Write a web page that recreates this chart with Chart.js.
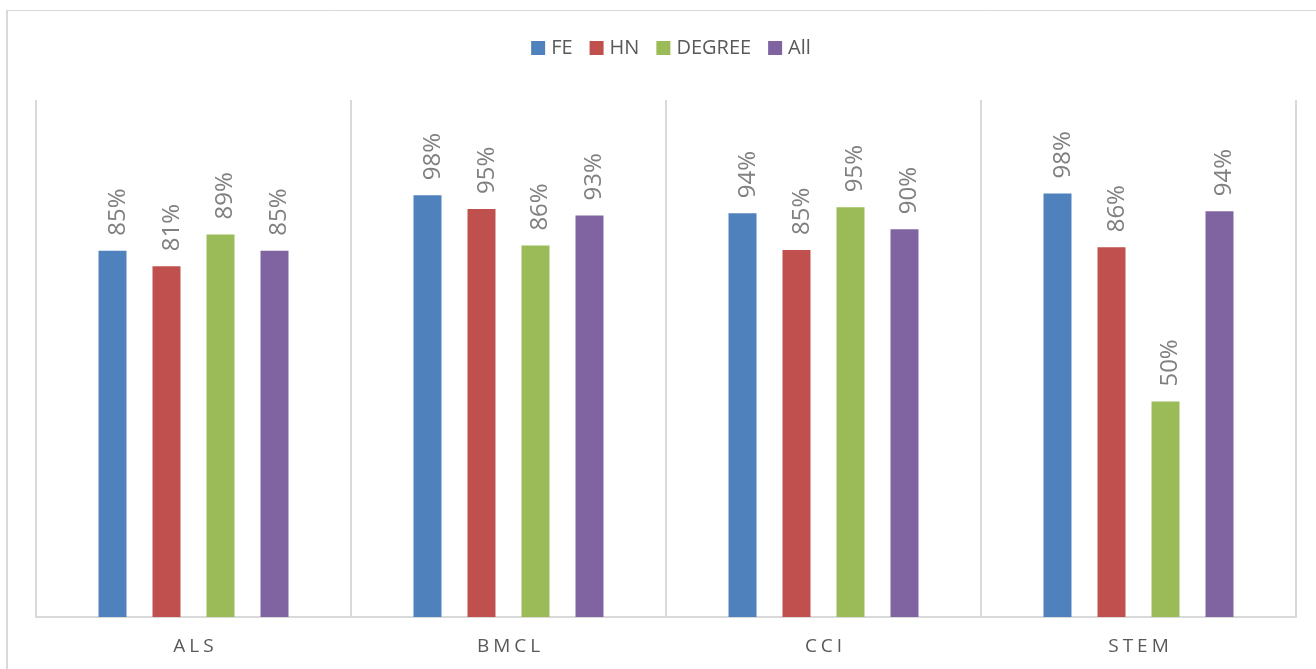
<!DOCTYPE html>
<html>
<head>
<meta charset="utf-8">
<script src="https://cdn.jsdelivr.net/npm/chart.js@4"></script>
<style>
  html, body { margin: 0; padding: 0; background: #ffffff; }
  #wrap { position: relative; width: 1316px; height: 669px; }
</style>
</head>
<body>
<div id="wrap"><canvas id="c" width="1316" height="669"></canvas></div>
<script>
const categories = ["ALS", "BMCL", "CCI", "STEM"];
const seriesNames = ["FE", "HN", "DEGREE", "All"];
const feValues = [0.850, 0.979, 0.937, 0.983];
const hnValues = [0.814, 0.947, 0.852, 0.858];
const degreeValues = [0.888, 0.862, 0.951, 0.500];
const allValues = [0.850, 0.932, 0.900, 0.942];
const seriesColors = ["#4f81bd", "#c0504d", "#9bbb59", "#8064a2"];

const seriesValues = [feValues, hnValues, degreeValues, allValues];
const FONT = "'Open Sans', 'DejaVu Sans', sans-serif";

const framePlugin = {
  id: 'frame',
  beforeDraw(chart) {
    const ctx = chart.ctx;
    ctx.save();
    ctx.fillStyle = '#ffffff';
    ctx.fillRect(0, 0, chart.width, chart.height);
    ctx.strokeStyle = '#d9d9d9';
    ctx.lineWidth = 2;
    ctx.beginPath();
    ctx.moveTo(7, 10);
    ctx.lineTo(7, chart.height);
    ctx.stroke();
    ctx.lineWidth = 1;
    ctx.beginPath();
    ctx.moveTo(6, 10.5);
    ctx.lineTo(chart.width, 10.5);
    ctx.stroke();
    ctx.restore();
  }
};

const legendPlugin = {
  id: 'customLegend',
  afterDraw(chart) {
    const ctx = chart.ctx;
    ctx.save();
    ctx.font = '20px ' + FONT;
    const box = 14, gapText = 6, gapItem = 17;
    const widths = seriesNames.map(n => ctx.measureText(n).width);
    let total = 0;
    widths.forEach((w, i) => { total += box + gapText + w + (i < widths.length - 1 ? gapItem : 0); });
    let x = 671 - total / 2;
    seriesNames.forEach((n, i) => {
      ctx.fillStyle = seriesColors[i];
      ctx.fillRect(x, 41, box, box);
      x += box + gapText;
      ctx.fillStyle = '#595959';
      ctx.textBaseline = 'alphabetic';
      ctx.textAlign = 'left';
      ctx.fillText(n, x, 54);
      x += widths[i] + gapItem;
    });
    ctx.restore();
  }
};

const xLabelPlugin = {
  id: 'xLabels',
  afterDraw(chart) {
    const ctx = chart.ctx;
    const xs = chart.scales.x;
    ctx.save();
    ctx.font = '19px ' + FONT;
    ctx.fillStyle = '#595959';
    ctx.textAlign = 'center';
    ctx.textBaseline = 'alphabetic';
    const sp = 4;
    try { ctx.letterSpacing = sp + 'px'; } catch (e) {}
    categories.forEach((c, i) => {
      const px = xs.getPixelForTick(i);
      ctx.fillText(c, px + sp / 2, 652);
    });
    ctx.restore();
  }
};

const dataLabelPlugin = {
  id: 'dataLabels',
  afterDatasetsDraw(chart) {
    const ctx = chart.ctx;
    ctx.save();
    ctx.font = '24px ' + FONT;
    ctx.fillStyle = '#808080';
    ctx.textAlign = 'left';
    ctx.textBaseline = 'alphabetic';
    chart.data.datasets.forEach((ds, di) => {
      const meta = chart.getDatasetMeta(di);
      meta.data.forEach((el, i) => {
        const v = ds.data[i];
        const label = Math.round(v * 100) + '%';
        ctx.save();
        ctx.translate(el.x + 12, el.y - 15);
        ctx.rotate(-Math.PI / 2);
        ctx.fillText(label, 0, 0);
        ctx.restore();
      });
    });
    ctx.restore();
  }
};

new Chart(document.getElementById('c'), {
  type: 'bar',
  data: {
    labels: categories,
    datasets: seriesNames.map((n, i) => ({
      label: n,
      data: seriesValues[i],
      backgroundColor: seriesColors[i],
      borderWidth: 0,
      categoryPercentage: 0.6857,
      barPercentage: 0.5185
    }))
  },
  options: {
    responsive: false,
    animation: false,
    devicePixelRatio: 1,
    layout: { padding: { left: 36, right: 20, top: 100, bottom: 52 } },
    plugins: {
      legend: { display: false },
      tooltip: { enabled: false }
    },
    scales: {
      x: {
        grid: { display: true, offset: true, color: '#d9d9d9', lineWidth: 2, drawTicks: false },
        border: { display: true, color: '#d9d9d9', width: 2 },
        ticks: { display: false }
      },
      y: {
        display: false,
        min: 0,
        max: 1.2
      }
    }
  },
  plugins: [framePlugin, legendPlugin, xLabelPlugin, dataLabelPlugin]
});
</script>
</body>
</html>
